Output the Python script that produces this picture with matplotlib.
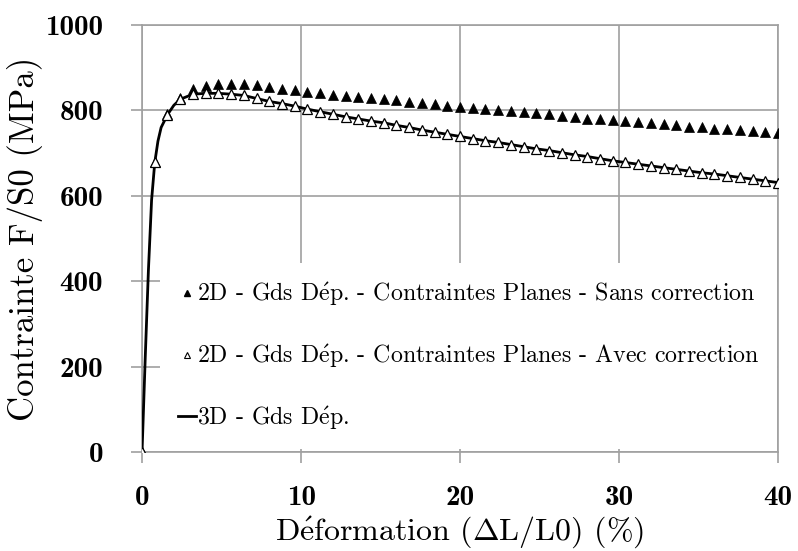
import matplotlib
matplotlib.use("Agg")
import matplotlib.pyplot as plt

# strain (%) at each marker, one every 0.8 %
strain = [0.0, 0.8, 1.6, 2.4, 3.2, 4.0, 4.8, 5.6, 6.4, 7.2,
          8.0, 8.8, 9.6, 10.4, 11.2, 12.0, 12.8, 13.6, 14.4, 15.2,
          16.0, 16.8, 17.6, 18.4, 19.2, 20.0, 20.8, 21.6, 22.4, 23.2,
          24.0, 24.8, 25.6, 26.4, 27.2, 28.0, 28.8, 29.6, 30.4, 31.2,
          32.0, 32.8, 33.6, 34.4, 35.2, 36.0, 36.8, 37.6, 38.4, 39.2,
          40.0]

# 2D - sans correction (filled triangles)
sans_corr = [0, 680, 792, 830, 849, 858, 861, 862, 862, 859,
             855, 851, 847, 844, 841, 837, 834, 831, 829, 827,
             824, 820, 817, 814, 811, 809, 806, 803, 801, 799,
             796, 793, 791, 788, 784, 781, 779, 777, 775, 773,
             770, 768, 765, 762, 760, 757, 756, 754, 752, 750,
             748]

# 2D - avec correction (open triangles)
avec_corr = [0, 680, 790, 826, 838, 840, 840, 838, 835, 828,
             821, 816, 810, 803, 797, 791, 785, 780, 775, 771,
             765, 760, 754, 749, 744, 739, 734, 729, 725, 720,
             715, 710, 706, 701, 696, 692, 687, 682, 678, 674,
             670, 666, 662, 658, 654, 651, 647, 643, 639, 635,
             631]

# 3D curve: elastic start, then follows the corrected 2D results
elastic_x = [0.0, 0.2, 0.4, 0.6, 0.8, 1.0, 1.2, 1.6, 2.0]
elastic_y = [0, 220, 425, 590, 678, 728, 760, 790, 812]
line_x = elastic_x + strain[3:]
line_y = elastic_y + avec_corr[3:]

e_acute = r'$\acute{\mathrm{e}}$'
labels = ["2D - Gds D" + e_acute + "p. - Contraintes Planes - Sans correction",
          "2D - Gds D" + e_acute + "p. - Contraintes Planes - Avec correction",
          "3D - Gds D" + e_acute + "p."]

plt.rcParams['font.family'] = ['cmr10', 'DejaVu Serif']
plt.rcParams['mathtext.fontset'] = 'cm'
grey = '#a0a0a0'

fig = plt.figure(figsize=(7.98, 5.51), dpi=100)
ax = fig.add_axes([0.178, 0.1797, 0.797, 0.7749])

ax.plot(line_x, line_y, color='black', lw=2.0, zorder=3)
ax.plot(strain, sans_corr, ls='none', marker='^', ms=6.8, mfc='black',
        mec='black', mew=0.5, zorder=4)
ax.plot(strain, avec_corr, ls='none', marker='^', ms=6.5, mfc='white',
        mec='black', mew=0.9, zorder=5)

# legend proxies
h1, = ax.plot([], [], ls='none', marker='^', ms=4.5, mfc='black', mec='black')
h2, = ax.plot([], [], ls='none', marker='^', ms=4.5, mfc='white', mec='black', mew=0.8)
h3, = ax.plot([], [], color='black', lw=2.0)
leg = ax.legend([h1, h2, h3], labels, loc='upper left',
                bbox_to_anchor=(0.028, 0.443), fontsize=17.2,
                frameon=True, fancybox=False, framealpha=1,
                edgecolor='white', borderpad=0.75, labelspacing=1.42,
                handlelength=0.75, handletextpad=0.05, borderaxespad=0)
leg.get_frame().set_linewidth(0)
leg.set_zorder(6)

ax.set_xlim(0, 40)
ax.set_ylim(0, 1000)
ax.set_xticks([0, 10, 20, 30, 40])
ax.set_yticks([0, 200, 400, 600, 800, 1000])
ax.grid(True, color=grey, lw=1.2)
ax.set_axisbelow(True)
for s in ax.spines.values():
    s.set_color(grey)
    s.set_linewidth(1.2)

ax.tick_params(axis='both', direction='out', length=8, width=1.2, color=grey,
               labelsize=21)
ax.tick_params(axis='x', pad=16)
ax.tick_params(axis='y', pad=20)
for t in ax.get_xticklabels() + ax.get_yticklabels():
    t.set_family(['cmb10', 'DejaVu Serif'])

ax.set_xlabel('D' + e_acute + r'formation ($\Delta$L/L0) (%)', fontsize=23)
ax.set_ylabel('Contrainte F/S0 (MPa)', fontsize=25)
ax.xaxis.set_label_coords(0.5, -0.146)
ax.yaxis.set_label_coords(-0.156, 0.5)

fig.savefig('out.png', dpi=100)
